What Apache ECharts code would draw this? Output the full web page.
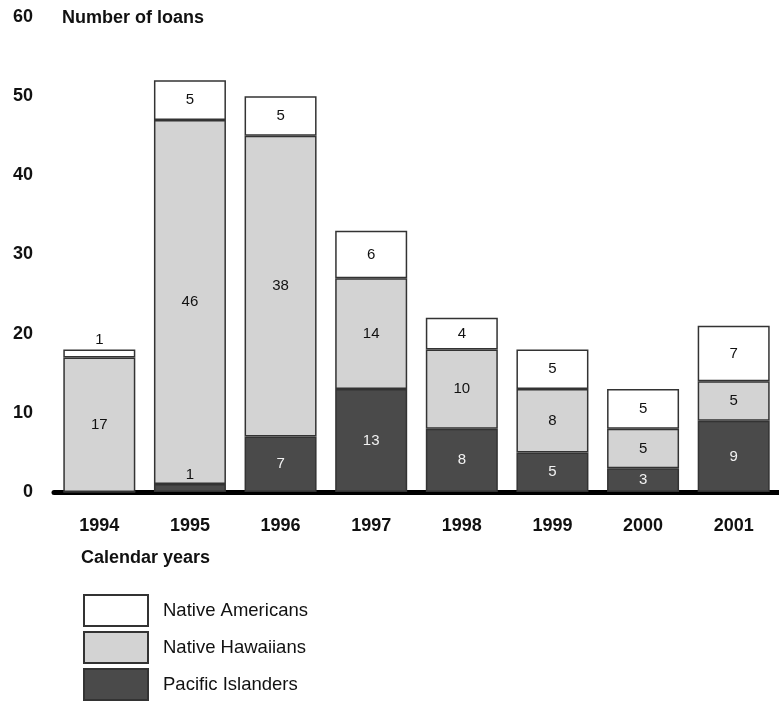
<!DOCTYPE html>
<html>
<head>
<meta charset="utf-8">
<script src="https://cdn.jsdelivr.net/npm/echarts@6/dist/echarts.min.js"></script>
<style>
  html, body { margin: 0; padding: 0; background: #fff; }
  #chart { width: 779px; height: 703px; }
</style>
</head>
<body>
<div id="chart"></div>
<script>
var years = ['1994', '1995', '1996', '1997', '1998', '1999', '2000', '2001'];
var pacificIslanders = [0, 1, 7, 13, 8, 5, 3, 9];
var nativeHawaiians = [17, 46, 38, 14, 10, 8, 5, 5];
var nativeAmericans = [1, 5, 5, 6, 4, 5, 5, 7];
var yTicks = [0, 10, 20, 30, 40, 50, 60];

var FONT = 'Liberation Sans, Arial, Helvetica, sans-serif';

// small segments get their number printed just above them
var withLabels = function (values, textColor) {
  return values.map(function (v) {
    if (v > 0 && v < 2) {
      return { value: v, label: { position: 'top', distance: 2, color: '#111' } };
    }
    return { value: v, label: { color: textColor } };
  });
};

var mkSeries = function (name, values, fill, textColor) {
  return {
    name: name,
    type: 'bar',
    stack: 'loans',
    barWidth: 72,
    data: withLabels(values, textColor),
    itemStyle: { color: fill, borderColor: '#333', borderWidth: 1.5 },
    label: {
      show: true,
      position: 'inside',
      fontFamily: FONT,
      fontSize: 15,
      formatter: function (p) { return p.value === 0 ? '' : p.value; }
    },
    emphasis: { disabled: true }
  };
};

var chart = echarts.init(document.getElementById('chart'));
var option = {
  animation: false,
  backgroundColor: '#fff',
  title: [{
    text: 'Number of loans',
    left: 62, top: 9, padding: 0,
    textStyle: { fontFamily: FONT, fontSize: 18, fontWeight: 'bold', color: '#111' }
  }, {
    text: 'Calendar years',
    left: 81, top: 549, padding: 0,
    textStyle: { fontFamily: FONT, fontSize: 18, fontWeight: 'bold', color: '#111' }
  }],
  legend: {
    orient: 'vertical',
    left: 83, top: 594, height: 140,
    padding: 0,
    itemWidth: 64, itemHeight: 31, itemGap: 4,
    icon: 'rect',
    data: ['Native Americans', 'Native Hawaiians', 'Pacific Islanders'],
    textStyle: { fontFamily: FONT, fontSize: 18.5, color: '#111', padding: [0, 0, 0, 10] },
    selectedMode: false
  },
  grid: { left: 54, top: 17, width: 726, height: 475, containLabel: false },
  xAxis: {
    type: 'category',
    data: years,
    axisLine: { lineStyle: { color: '#000', width: 5 } },
    axisTick: { show: false },
    axisLabel: { margin: 25, fontFamily: FONT, fontSize: 18, fontWeight: 'bold', color: '#111' }
  },
  yAxis: {
    type: 'value',
    min: yTicks[0], max: yTicks[yTicks.length - 1], interval: 10,
    axisLine: { show: false },
    axisTick: { show: false },
    splitLine: { show: false },
    axisLabel: { margin: 21, fontFamily: FONT, fontSize: 18, fontWeight: 'bold', color: '#111' }
  },
  series: [
    mkSeries('Pacific Islanders', pacificIslanders, '#4a4a4a', '#f2f2f2'),
    mkSeries('Native Hawaiians', nativeHawaiians, '#d3d3d3', '#111'),
    mkSeries('Native Americans', nativeAmericans, '#ffffff', '#111')
  ]
};
chart.setOption(option);
</script>
</body>
</html>
